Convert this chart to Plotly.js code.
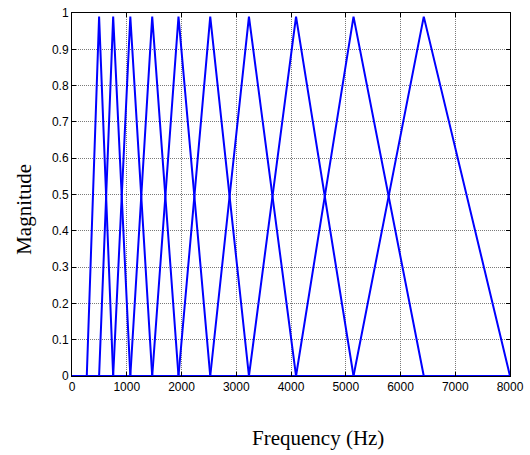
<!DOCTYPE html>
<html>
<head>
<meta charset="utf-8">
<script src="https://cdn.plot.ly/plotly-3.0.1.min.js"></script>
<style>html,body{margin:0;padding:0;background:#fff;}#chart{width:530px;height:455px;}</style>
</head>
<body>
<div id="chart"></div>
<script>
// Filter edge / centre frequencies (Hz)
const edgeFreqs = [270, 495, 752, 1065, 1465, 1945, 2525, 3232, 4092, 5142, 6425, 8000];
// Peak magnitude of each triangular filter
const peakValues = [0.99, 0.99, 0.99, 0.99, 0.99, 0.99, 0.99, 0.99, 0.99, 0.99];
const xTicks = [0, 1000, 2000, 3000, 4000, 5000, 6000, 7000, 8000];
const yTicks = [0, 0.1, 0.2, 0.3, 0.4, 0.5, 0.6, 0.7, 0.8, 0.9, 1];
const yTickText = ['0', '0.1', '0.2', '0.3', '0.4', '0.5', '0.6', '0.7', '0.8', '0.9', '1'];

const traces = peakValues.map((p, i) => ({
  type: 'scatter', mode: 'lines',
  x: [0, edgeFreqs[i], edgeFreqs[i + 1], edgeFreqs[i + 2], 8000],
  y: [0, 0, p, 0, 0],
  line: {color: '#0000ff', width: 2},
  hoverinfo: 'skip', showlegend: false, cliponaxis: false
}));

const axisCommon = {
  showline: true, linecolor: '#000', linewidth: 1, mirror: 'ticks',
  ticks: 'inside', ticklen: 4, tickcolor: '#000',
  showgrid: true, gridcolor: '#7a7a7a', griddash: '1px,1px', gridwidth: 1,
  zeroline: false, tickfont: {family: 'Liberation Sans, Arial, sans-serif', size: 12, color: '#000'}
};

const layout = {
  width: 530, height: 455,
  margin: {l: 72, r: 20, t: 13, b: 79},
  paper_bgcolor: '#fff', plot_bgcolor: '#fff',
  showlegend: false,
  xaxis: Object.assign({}, axisCommon, {range: [0, 8000], tickvals: xTicks, ticktext: xTicks.map(String)}),
  yaxis: Object.assign({}, axisCommon, {range: [0, 1], tickvals: yTicks, ticktext: yTickText}),
  annotations: [
    {text: 'Frequency (Hz)', xref: 'paper', yref: 'paper', x: 0.562, y: -0.172, xanchor: 'center', yanchor: 'middle',
     showarrow: false, font: {family: 'Liberation Serif, Times New Roman, serif', size: 21, color: '#000'}},
    {text: 'Magnitude', xref: 'paper', yref: 'paper', x: -0.11, y: 0.46, xanchor: 'center', yanchor: 'middle',
     textangle: -90, showarrow: false, font: {family: 'Liberation Serif, Times New Roman, serif', size: 21, color: '#000'}}
  ]
};

Plotly.newPlot('chart', traces, layout, {displayModeBar: false, staticPlot: true});
</script>
</body>
</html>
